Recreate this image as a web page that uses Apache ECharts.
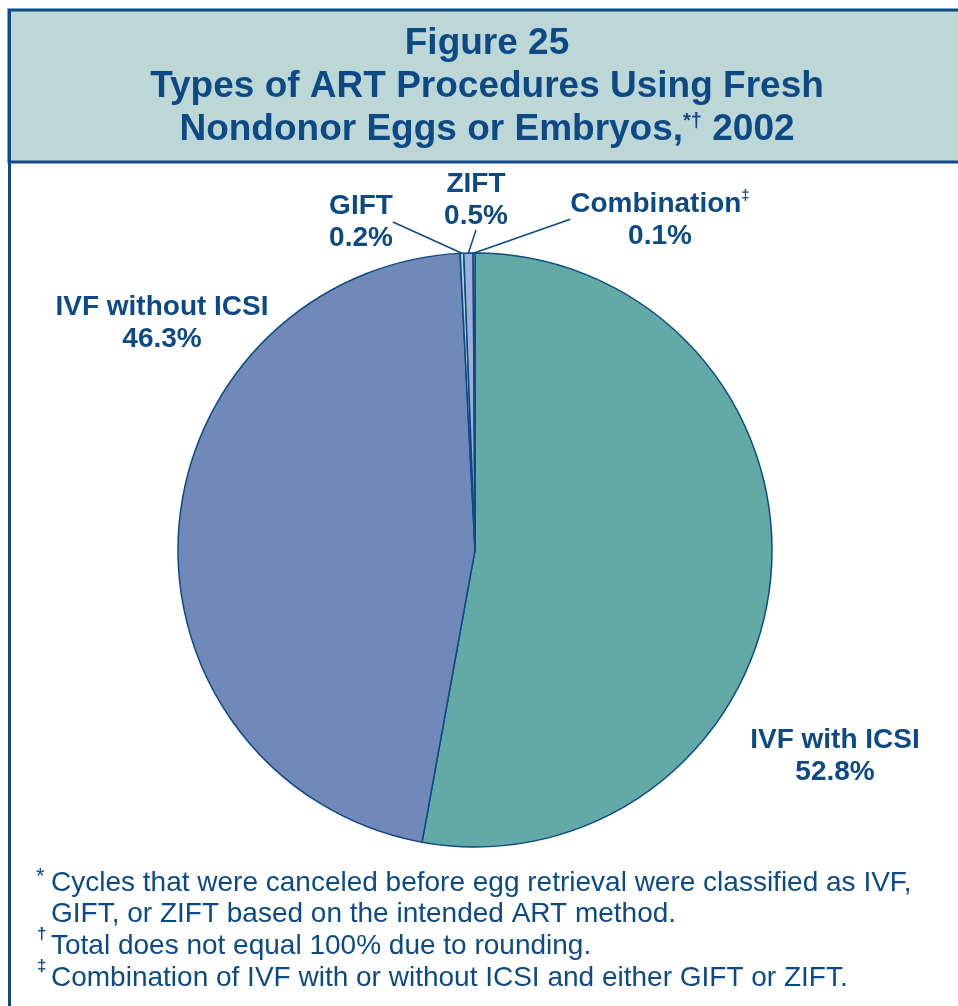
<!DOCTYPE html>
<html>
<head>
<meta charset="utf-8">
<script src="https://cdn.jsdelivr.net/npm/echarts@6/dist/echarts.min.js"></script>
<style>
html,body{margin:0;padding:0;background:#fff;}
#chart{width:958px;height:1006px;}
</style>
</head>
<body>
<div id="chart"></div>
<script>
// ---- data ----
const categories = ['IVF with ICSI', 'IVF without ICSI', 'GIFT', 'ZIFT', 'Combination'];
const values = [52.8, 46.3, 0.2, 0.5, 0.1];
const valueLabels = ['52.8%', '46.3%', '0.2%', '0.5%', '0.1%'];
const titleLines = ['Figure 25', 'Types of ART Procedures Using Fresh', 'Nondonor Eggs or Embryos,'];
const titleSup = '*†';
const titleYear = ' 2002';
const footnoteMarks = ['*', '', '†', '‡'];
const footnoteTexts = [
  'Cycles that were canceled before egg retrieval were classified as IVF,',
  'GIFT, or ZIFT based on the intended ART method.',
  'Total does not equal 100% due to rounding.',
  'Combination of IVF with or without ICSI and either GIFT or ZIFT.'
];
const labelSups = ['', '', '', '', '‡'];

// ---- styles / layout ----
const DARK = '#0d4a85';
const sliceColors = ['#63a9a6', '#7189b8', '#a9d1d0', '#a3aed6', '#a9d1d0'];
const labelCenters = [[835, 756], [162, 323], [361, 222], [476, 200], [660, 220]];
const showLines = [false, false, true, true, true];
const FONT = '"Liberation Sans", Arial, Helvetica, sans-serif';

const chart = echarts.init(document.getElementById('chart'), null, {renderer: 'canvas'});

const pieData = categories.map((c, i) => ({
  name: c,
  value: values[i],
  itemStyle: {color: sliceColors[i]},
  label: {
    formatter: '{n|' + c + '}' + (labelSups[i] ? '{s|' + labelSups[i] + '}' : '') + '\n{n|' + valueLabels[i] + '}'
  },
  labelLine: {show: showLines[i]}
}));

const footGraphics = [];
footnoteTexts.forEach((t, i) => {
  const yc = 883 + i * 31.7;
  const m = footnoteMarks[i];
  if (m) {
    footGraphics.push({
      type: 'text', x: m === '*' ? 36 : 37, y: yc - (m === '*' ? 6 : 12),
      style: {text: m, font: (m === '*' ? '22px ' : 'bold 17px ') + FONT, fill: DARK, verticalAlign: 'middle'}
    });
  }
  footGraphics.push({
    type: 'text', x: 51, y: yc,
    style: {text: t, font: '28px ' + FONT, fill: DARK, verticalAlign: 'middle'}
  });
});

chart.setOption({
  animation: false,
  graphic: [
    {type: 'rect', z: -10, shape: {x: 9, y: 10, width: 960, height: 152},
      style: {fill: '#bcd7d6', stroke: DARK, lineWidth: 3}},
    {type: 'line', z: -9, shape: {x1: 9.5, y1: 10, x2: 9.5, y2: 1010}, style: {stroke: DARK, lineWidth: 3}},
    {type: 'text', x: 487, y: 22, z: 5,
      style: {
        text: '{t|' + titleLines[0] + '}\n{t|' + titleLines[1] + '}\n{t|' + titleLines[2] + '}{s|' + titleSup + '}{t|' + titleYear + '}',
        align: 'center', verticalAlign: 'top',
        rich: {
          t: {fontFamily: FONT, fontWeight: 'bold', fontSize: 37, fill: DARK, lineHeight: 43, align: 'center'},
          s: {fontFamily: FONT, fontWeight: 'bold', fontSize: 20, fill: DARK, lineHeight: 43, padding: [0, 0, 16, 0]}
        }
      }}
  ].concat(footGraphics),
  series: [{
    type: 'pie',
    center: [475, 550],
    radius: 297,
    startAngle: 90,
    clockwise: true,
    avoidLabelOverlap: false,
    minAngle: 0,
    data: pieData,
    itemStyle: {borderColor: DARK, borderWidth: 1.5},
    label: {
      show: true,
      position: 'outside',
      align: 'center',
      rich: {
        n: {fontFamily: FONT, fontWeight: 'bold', fontSize: 28, color: DARK, lineHeight: 32, align: 'center'},
        s: {fontFamily: FONT, fontWeight: 'bold', fontSize: 15, color: DARK, lineHeight: 32, padding: [0, 0, 16, 0]}
      }
    },
    labelLine: {lineStyle: {color: DARK, width: 1.5}, length: 0, length2: 0, smooth: false},
    labelLayout: function (params) {
      const p = labelCenters[params.dataIndex];
      return {x: p[0], y: p[1], align: 'center', verticalAlign: 'middle'};
    },
    emphasis: {disabled: true}
  }]
});
</script>
</body>
</html>
